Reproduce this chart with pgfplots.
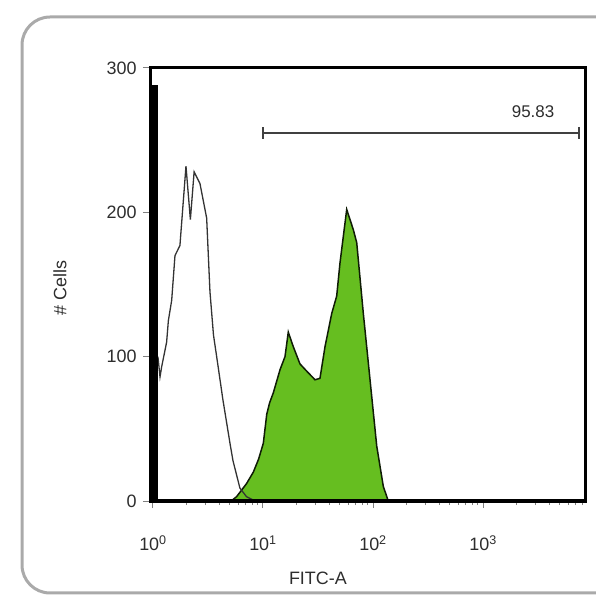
\documentclass[border=0pt]{standalone}
\usepackage{fontspec}
\setmainfont{Liberation Sans}
\usepackage{pgfplots}
\pgfplotsset{compat=1.18}
\usetikzlibrary{arrows.meta}
\definecolor{fitc}{RGB}{102,190,32}
\definecolor{txt}{RGB}{45,45,45}
\definecolor{frame}{RGB}{170,170,170}

% FITC-A channel, x given as log10 of the intensity
\pgfplotstableread{
lx     n
0.700  0
0.727  1
0.760  3
0.790  6
0.850  12
0.912  20
0.960  29
1.003  40
1.034  60
1.060  68
1.094  75
1.155  91
1.200  100
1.230  117
1.275  107
1.336  95
1.397  90
1.473  84
1.518  85
1.564  107
1.625  130
1.670  142
1.700  165
1.761  202
1.821  188
1.852  179
1.912  130
1.973  84
2.034  38
2.094  10
2.139  0
}\stained

\pgfplotstableread{
lx     n
0.045  100
0.064  86
0.079  93
0.124  110
0.140  125
0.170  139
0.200  170
0.245  177
0.273  205
0.300  232
0.340  195
0.374  228
0.427  220
0.488  196
0.518  145
0.550  115
0.579  100
0.636  70
0.700  40
0.727  28
0.790  9
0.850  3
0.930  0
}\control

\begin{document}
\begin{tikzpicture}
\useasboundingbox (0,0) rectangle (596bp,600bp);
\draw[line width=3bp, color=frame, rounded corners=28bp] (22bp,7bp) rectangle (650bp,583bp);
\begin{axis}[
  at={(150bp,99bp)}, anchor=south west,
  width=435bp, height=433bp, scale only axis,
  xmin=-0.027, xmax=3.927, ymin=0, ymax=300,
  axis on top,
  axis line style={line width=3bp, black},
  xtick={0,1,2,3},
  xticklabels={10\textsuperscript{0},10\textsuperscript{1},10\textsuperscript{2},10\textsuperscript{3}},
  minor xtick={0.301,0.477,0.602,0.699,0.778,0.845,0.903,0.954,
               1.301,1.477,1.602,1.699,1.778,1.845,1.903,1.954,
               2.301,2.477,2.602,2.699,2.778,2.845,2.903,2.954,
               3.301,3.477,3.602,3.699,3.778,3.845,3.903},
  ytick={0,100,200,300},
  tick align=outside, xtick pos=bottom, ytick pos=left,
  major tick length=7bp, minor tick length=4bp,
  every tick/.style={color=gray, line width=1bp},
  ticklabel style={font=\fontsize{18}{20}\selectfont, text=txt},
  xticklabel style={yshift=-24bp},
  yticklabel style={xshift=-3bp},
  /pgf/number format/assume math mode=true,
  xlabel={FITC-A},
  xlabel style={at={(rel axis cs:0.386,-0.178)}, anchor=center,
                font=\fontsize{18}{20}\selectfont, text=txt},
  ylabel={\# Cells},
  ylabel style={at={(rel axis cs:-0.207,0.492)}, anchor=center,
                font=\fontsize{18}{20}\selectfont, text=txt},
]
\addplot[fill=fitc, draw=black!85!fitc, line width=1.5bp] table[x=lx, y=n] {\stained} \closedcycle;
\addplot[draw=black!80, line width=1.3bp] table[x=lx, y=n] {\control};
\addplot[line width=8bp, black] coordinates {(0.0136,0) (0.0136,288)};
\draw[line width=1.6bp, color=black!75, {Bar[width=12bp]}-{Bar[width=12bp]}]
  (axis cs:0.991,255) -- (axis cs:3.882,255);
\node[font=\fontsize{17}{20}\selectfont, text=txt] at (axis cs:3.455,269.6) {95.83};
\end{axis}
\end{tikzpicture}
\end{document}
